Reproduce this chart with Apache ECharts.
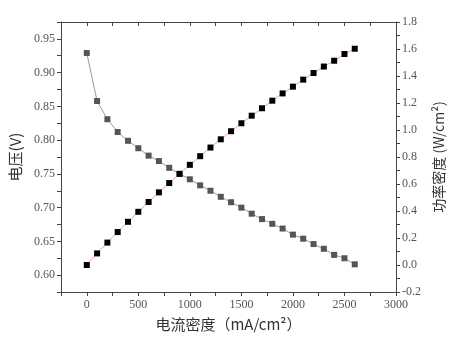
<!DOCTYPE html>
<html>
<head>
<meta charset="utf-8">
<script src="https://cdn.jsdelivr.net/npm/echarts@6/dist/echarts.min.js"></script>
<style>
  html, body { margin: 0; padding: 0; background: #fff; }
  #chart { width: 455px; height: 346px; }
</style>
</head>
<body>
<div id="chart"></div>
<script>
// Current density (mA/cm²)
const currentDensity = [0, 100, 200, 300, 400, 500, 600, 700, 800, 900, 1000, 1100, 1200, 1300,
  1400, 1500, 1600, 1700, 1800, 1900, 2000, 2100, 2200, 2300, 2400, 2500, 2600];
// Cell voltage (V)
const voltage = [0.929, 0.858, 0.831, 0.812, 0.799, 0.788, 0.777, 0.769, 0.759, 0.750, 0.742,
  0.733, 0.725, 0.716, 0.708, 0.700, 0.691, 0.683, 0.676, 0.669, 0.660, 0.654, 0.646, 0.639,
  0.630, 0.625, 0.616];
// Power density (W/cm²)
const powerDensity = [0.000, 0.086, 0.166, 0.244, 0.320, 0.394, 0.467, 0.538, 0.607, 0.675,
  0.742, 0.806, 0.870, 0.931, 0.991, 1.050, 1.106, 1.161, 1.217, 1.271, 1.321, 1.373, 1.422,
  1.470, 1.513, 1.563, 1.602];

const xTitle = '电流密度（mA/cm²）';
const yLeftTitle = '电压(V)';
const yRightTitle = '功率密度 (W/cm²)';

const labelFont = 'Liberation Serif';
const titleFont = '"Noto Sans CJK SC"';
const axisColor = '#444';
const labelColor = '#555';

const chart = echarts.init(document.getElementById('chart'));

const pairs = (ys) => currentDensity.map((x, i) => [x, ys[i]]);

chart.setOption({
  animation: false,
  grid: { left: 61, right: 59, top: 22, bottom: 54 },
  xAxis: [{
    type: 'value',
    min: -250, max: 3000, interval: 250,
    name: xTitle,
    nameLocation: 'middle',
    nameGap: 25,
    nameTextStyle: { fontFamily: titleFont, fontSize: 15, color: '#333' },
    axisLine: { onZero: false, lineStyle: { color: axisColor } },
    axisTick: { inside: false, length: 4, lineStyle: { color: axisColor } },
    axisLabel: {
      color: labelColor, fontFamily: labelFont, fontSize: 12, margin: 7,
      formatter: v => (v >= 0 && Math.round(v) % 500 === 0) ? String(v) : ''
    },
    splitLine: { show: false }
  }, {
    type: 'value',
    position: 'top',
    min: -250, max: 3000, interval: 250,
    axisLine: { onZero: false, lineStyle: { color: axisColor } },
    axisTick: { inside: true, length: 4, lineStyle: { color: axisColor } },
    axisLabel: { show: false },
    splitLine: { show: false }
  }],
  yAxis: [{
    type: 'value',
    position: 'left',
    min: 0.575, max: 0.975, interval: 0.025,
    name: yLeftTitle,
    nameLocation: 'middle',
    nameGap: 37,
    nameRotate: 90,
    nameTextStyle: { fontFamily: titleFont, fontSize: 15, color: '#333' },
    axisLine: { show: true, onZero: false, lineStyle: { color: axisColor } },
    axisTick: { show: true, inside: false, length: 4, lineStyle: { color: axisColor } },
    axisLabel: {
      color: labelColor, fontFamily: labelFont, fontSize: 12, margin: 6,
      formatter: v => (Math.round(v * 1000) % 50 === 0) ? v.toFixed(2) : ''
    },
    splitLine: { show: false }
  }, {
    type: 'value',
    position: 'right',
    min: -0.2, max: 1.8, interval: 0.1,
    name: yRightTitle,
    nameLocation: 'middle',
    nameGap: 35,
    nameRotate: 90,
    nameTextStyle: { fontFamily: titleFont, fontSize: 14, color: '#333' },
    axisLine: { show: true, onZero: false, lineStyle: { color: axisColor } },
    axisTick: { show: true, inside: false, length: 4, lineStyle: { color: axisColor } },
    axisLabel: {
      color: labelColor, fontFamily: labelFont, fontSize: 12, margin: 6,
      formatter: v => (Math.round(v * 10) % 2 === 0) ? v.toFixed(1) : ''
    },
    splitLine: { show: false }
  }],
  series: [{
    name: yLeftTitle,
    type: 'line',
    xAxisIndex: 0,
    yAxisIndex: 0,
    data: pairs(voltage),
    symbol: 'rect',
    symbolSize: 6,
    itemStyle: { color: '#555' },
    lineStyle: { color: '#999', width: 1 },
    z: 2
  }, {
    name: yRightTitle,
    type: 'line',
    xAxisIndex: 0,
    yAxisIndex: 1,
    data: pairs(powerDensity),
    symbol: 'rect',
    symbolSize: 6,
    itemStyle: { color: '#000' },
    lineStyle: { color: '#e9a3a8', width: 1 },
    z: 3
  }]
});
</script>
</body>
</html>
